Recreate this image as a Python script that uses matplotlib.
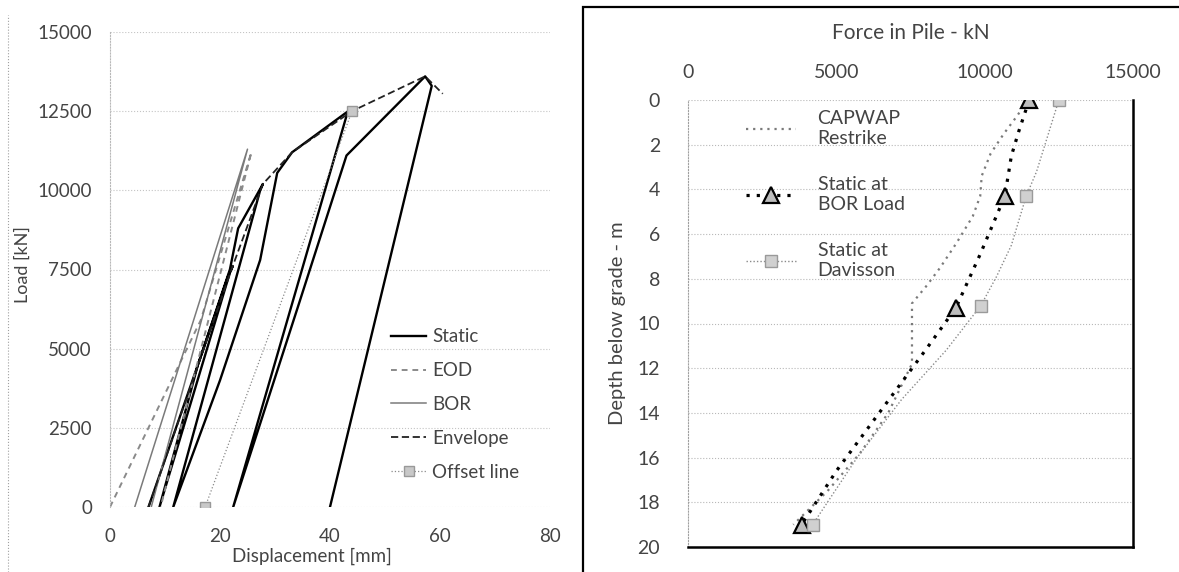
import matplotlib
matplotlib.use("Agg")
import matplotlib.pyplot as plt
from matplotlib.lines import Line2D
from matplotlib.patches import Rectangle

plt.rcParams['font.family'] = ['Lato', 'DejaVu Sans']

# load test: displacement [mm] vs load [kN]
static_disp = [7.0, 12.0, 17.0, 21.5, 22.3, 21.8, 9.0,
               16.0, 21.8, 23.3, 27.8, 27.3, 11.5,
               20.0, 27.3, 30.4, 33.1, 43.3, 43.0, 22.4,
               34.5, 43.0, 57.3, 58.5, 40.0]
static_load = [0, 2500, 5000, 7300, 7600, 7400, 0,
               4500, 7500, 8800, 10200, 10000, 0,
               4000, 7800, 10550, 11200, 12500, 12350, 0,
               6500, 11100, 13600, 13300, 0]
eod_disp = [0.0, 16.5, 25.7, 9.2]
eod_load = [0, 5900, 11200, 0]
bor_disp = [4.5, 25.0, 7.5]
bor_load = [0, 11300, 0]
env_disp = [7.0, 22.3, 27.8, 33.1, 44.0, 57.3, 60.5]
env_load = [0, 7600, 10200, 11200, 12500, 13600, 13050]
offset_disp = [17.3, 44.0]
offset_load = [0, 12500]

# force distribution along the pile: force [kN] vs depth [m]
capwap_force = [11300, 11100, 10650, 10200, 9900, 9850, 9600, 9050, 8500,
                8050, 7550, 7550, 6750, 5800, 4700, 3550]
capwap_depth = [0.3, 0.7, 1.5, 2.4, 3.4, 4.3, 5.2, 6.4, 7.5,
                8.3, 9.1, 11.8, 14.0, 15.8, 17.5, 19.0]
bor_force = [11500, 11150, 10900, 10680, 9850, 9030, 8000, 7000, 6000, 5000, 3830]
bor_depth = [0.0, 1.4, 2.5, 4.3, 6.9, 9.3, 11.2, 13.0, 14.8, 16.6, 19.0]
bor_marks = [0, 3, 5, 10]
dav_force = [12500, 12150, 11750, 11400, 10900, 10400, 9870, 8700, 7200, 5700, 4200]
dav_depth = [0.0, 1.5, 3.2, 4.3, 6.5, 7.9, 9.2, 11.2, 13.4, 16.0, 19.0]
dav_marks = [0, 3, 6, 10]

txt = '#444444'
W, H = 1179, 572
fig = plt.figure(figsize=(W / 100, H / 100), dpi=100)

# ---- left: load-displacement
ax = fig.add_axes([110 / W, 1 - 507 / H, 440 / W, 475 / H])
ax.plot(static_disp, static_load, color='black', lw=1.7, label='Static')
ax.plot(eod_disp, eod_load, color='#8a8a8a', lw=1.4, ls=(0, (3, 2.5)), label='EOD')
ax.plot(bor_disp, bor_load, color='#7a7a7a', lw=1.1, label='BOR')
ax.plot(env_disp, env_load, color='#222222', lw=1.3, ls=(0, (4, 2)), label='Envelope')
ax.plot(offset_disp, offset_load, color='#8a8a8a', lw=0.9, ls=':', marker='s', ms=7,
        mfc='#c8c8c8', mec='#999999', label='Offset line')
ax.set_xlim(0, 80)
ax.set_ylim(0, 15000)
ax.set_xticks([0, 20, 40, 60, 80])
ax.set_yticks(range(0, 15001, 2500))
ax.tick_params(length=0, labelsize=13.5, labelcolor=txt)
ax.tick_params(axis='y', pad=13)
ax.tick_params(axis='x', pad=15)
ax.grid(axis='y', color='#c4c4c4', ls=':', lw=0.8)
for s in ['top', 'right', 'bottom']:
    ax.spines[s].set_visible(False)
ax.spines['left'].set_linestyle(':')
ax.spines['left'].set_color('#b8b8b8')
ax.set_xlabel('Displacement [mm]', fontsize=13.5, color=txt)
ax.xaxis.set_label_coords(0.46, -0.086)
ax.set_ylabel('Load [kN]', fontsize=13, color=txt)
ax.yaxis.set_label_coords(-0.18, 0.51)
ax.legend(loc='upper left', bbox_to_anchor=(0.621, 0.392), frameon=False,
          fontsize=13.5, labelcolor=txt, handlelength=1.9, handletextpad=0.3,
          labelspacing=0.9, borderaxespad=0)

# ---- right: force in pile vs depth
ax2 = fig.add_axes([688 / W, 1 - 547 / H, 445 / W, 447 / H])
ax2.plot(capwap_force, capwap_depth, color='#7a7a7a', lw=1.6, ls=(0, (1, 2.2)),
         label='CAPWAP\nRestrike')
ax2.plot(bor_force, bor_depth, color='black', lw=2.3, ls=(0, (1, 2.2)),
         marker='^', ms=11, mfc='#bdbdbd', mec='black', mew=1.6,
         markevery=bor_marks, label='Static at\nBOR Load')
ax2.plot(dav_force, dav_depth, color='#8a8a8a', lw=1.0, ls=(0, (1, 1.5)),
         marker='s', ms=9, mfc='#d0d0d0', mec='#9a9a9a', mew=1.0,
         markevery=dav_marks, label='Static at\nDavisson')
ax2.set_xlim(0, 15000)
ax2.set_ylim(20, 0)
ax2.set_xticks([0, 5000, 10000, 15000])
ax2.set_yticks(range(0, 21, 2))
ax2.xaxis.tick_top()
ax2.xaxis.set_label_position('top')
ax2.tick_params(length=0, labelsize=14, labelcolor=txt)
ax2.tick_params(axis='y', pad=20)
ax2.tick_params(axis='x', pad=14)
ax2.grid(axis='y', color='#b8b8b8', ls=':', lw=0.8)
ax2.spines['left'].set_linestyle(':')
ax2.spines['left'].set_color('#a0a0a0')
ax2.spines['top'].set_visible(False)
for s in ['right', 'bottom']:
    ax2.spines[s].set_linewidth(1.8)
ax2.set_xlabel('Force in Pile - kN', fontsize=15, color=txt, labelpad=18)
ax2.set_ylabel('Depth below grade - m', fontsize=14.5, color=txt, labelpad=8)
ax2.legend(loc='upper left', bbox_to_anchor=(0.112, 0.995), frameon=False,
           fontsize=14, labelcolor=txt, handlelength=2.6, handletextpad=1.1,
           labelspacing=1.5, borderaxespad=0)

# chart frames
fig.add_artist(Rectangle((583 / W, -0.05), 0.6, 1 - 7 / H + 0.05, transform=fig.transFigure,
                         fill=False, ec='black', lw=1.6))
fig.add_artist(Line2D([8 / W, 8 / W], [0, 1 - 15 / H], transform=fig.transFigure,
                      color='#a0a0a0', ls=':', lw=0.8))

fig.savefig('out.png', dpi=100)
